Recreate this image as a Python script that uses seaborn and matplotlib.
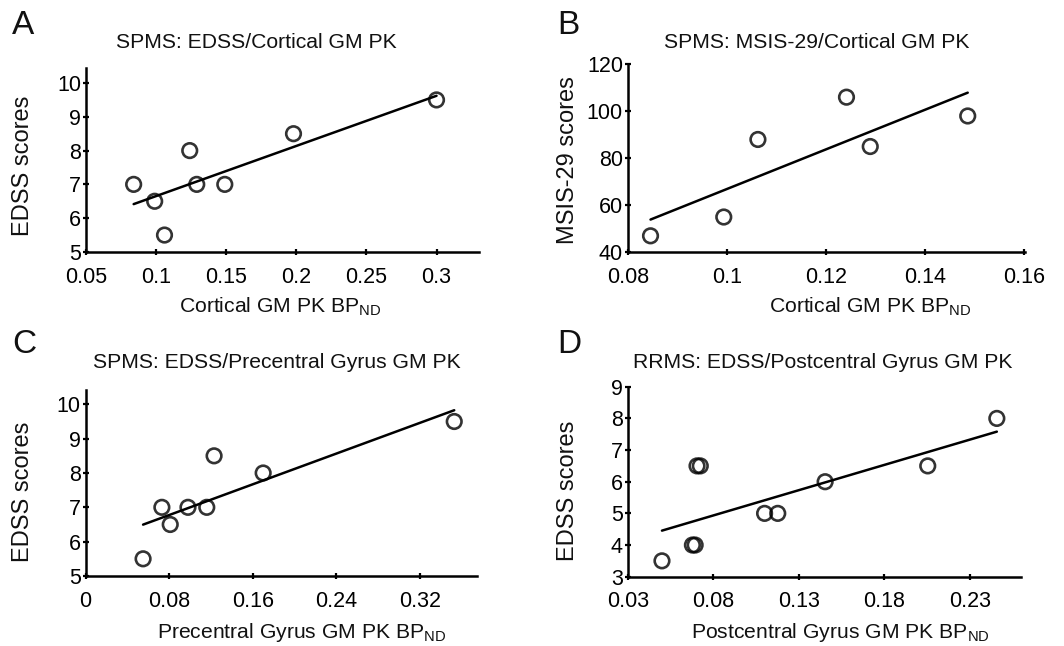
import numpy as np
import pandas as pd
import matplotlib
matplotlib.use("Agg")
import matplotlib.pyplot as plt
import seaborn as sns

# Panel A: SPMS EDSS vs cortical GM PK
a_x = [0.084, 0.099, 0.106, 0.124, 0.129, 0.149, 0.198, 0.300]
a_y = [7.0, 6.5, 5.5, 8.0, 7.0, 7.0, 8.5, 9.5]

# Panel B: SPMS MSIS-29 vs cortical GM PK
b_x = [0.0846, 0.0994, 0.1063, 0.1242, 0.1290, 0.1487]
b_y = [47, 55, 88, 106, 85, 98]

# Panel C: SPMS EDSS vs precentral gyrus GM PK
c_x = [0.055, 0.073, 0.081, 0.098, 0.116, 0.123, 0.170, 0.353]
c_y = [5.5, 7.0, 6.5, 7.0, 7.0, 8.5, 8.0, 9.5]

# Panel D: RRMS EDSS vs postcentral gyrus GM PK
d_x = [0.050, 0.0678, 0.0694, 0.0705, 0.0724, 0.110, 0.1177, 0.1454, 0.2054, 0.2458]
d_y = [3.5, 4.0, 4.0, 6.5, 6.5, 5.0, 5.0, 6.0, 6.5, 8.0]

sns.set_theme(style="white")
plt.rcParams["font.family"] = ["Liberation Sans", "DejaVu Sans"]
plt.rcParams["mathtext.default"] = "regular"

fig = plt.figure(figsize=(10.64, 6.46), dpi=100)

panels = [
    dict(x=a_x, y=a_y, rect=[0.0808, 0.610, 0.369, 0.285],
         xlim=(0.05, 0.33), ylim=(5, 10.45),
         xticks=[0.05, 0.1, 0.15, 0.2, 0.25, 0.3],
         xtl=["0.05", "0.1", "0.15", "0.2", "0.25", "0.3"],
         yticks=[5, 6, 7, 8, 9, 10],
         title="SPMS: EDSS/Cortical GM PK", letter="A",
         xlabel="Cortical GM PK BP$_{ND}$", ylabel="EDSS scores",
         title_xy=(256, 42), letter_xy=(12, 25),
         xl_xy=(280, 307), yl_xy=(23, 166)),
    dict(x=b_x, y=b_y, rect=[0.590, 0.6095, 0.373, 0.291],
         xlim=(0.08, 0.1602), ylim=(40, 120),
         xticks=[0.08, 0.1, 0.12, 0.14, 0.16],
         xtl=["0.08", "0.1", "0.12", "0.14", "0.16"],
         yticks=[40, 60, 80, 100, 120],
         title="SPMS: MSIS-29/Cortical GM PK", letter="B",
         xlabel="Cortical GM PK BP$_{ND}$", ylabel="MSIS-29 scores",
         title_xy=(817, 42), letter_xy=(557, 25),
         xl_xy=(870, 307), yl_xy=(568, 160)),
    dict(x=c_x, y=c_y, rect=[0.0805, 0.1084, 0.368, 0.288],
         xlim=(0, 0.375), ylim=(5, 10.42),
         xticks=[0, 0.08, 0.16, 0.24, 0.32],
         xtl=["0", "0.08", "0.16", "0.24", "0.32"],
         yticks=[5, 6, 7, 8, 9, 10],
         title="SPMS: EDSS/Precentral Gyrus GM PK", letter="C",
         xlabel="Precentral Gyrus GM PK BP$_{ND}$", ylabel="EDSS scores",
         title_xy=(277, 362), letter_xy=(12, 345),
         xl_xy=(302, 632), yl_xy=(23, 492)),
    dict(x=d_x, y=d_y, rect=[0.590, 0.1073, 0.3697, 0.294],
         xlim=(0.03, 0.26), ylim=(3, 9),
         xticks=[0.03, 0.08, 0.13, 0.18, 0.23],
         xtl=["0.03", "0.08", "0.13", "0.18", "0.23"],
         yticks=[3, 4, 5, 6, 7, 8, 9],
         title="RRMS: EDSS/Postcentral Gyrus GM PK", letter="D",
         xlabel="Postcentral Gyrus GM PK BP$_{ND}$", ylabel="EDSS scores",
         title_xy=(823, 362), letter_xy=(557, 345),
         xl_xy=(840, 633), yl_xy=(568, 491)),
]

W, H = 1064, 646
for p in panels:
    ax = fig.add_axes(p["rect"])
    df = pd.DataFrame({"x": p["x"], "y": p["y"]})
    sns.regplot(data=df, x="x", y="y", ax=ax, ci=None, truncate=True,
                scatter_kws=dict(s=110, facecolors="none", edgecolors="black",
                                 linewidths=1.9, zorder=3),
                line_kws=dict(color="black", linewidth=1.8))
    ax.set_xlim(p["xlim"])
    ax.set_ylim(p["ylim"])
    ax.set_xticks(p["xticks"])
    ax.set_xticklabels(p["xtl"])
    ax.set_yticks(p["yticks"])
    ax.set_xlabel("")
    ax.set_ylabel("")
    for s in ["top", "right"]:
        ax.spines[s].set_visible(False)
    for s in ["left", "bottom"]:
        ax.spines[s].set_color("black")
        ax.spines[s].set_linewidth(1.8)
    ax.tick_params(direction="inout", length=5, width=1.6, colors="black",
                   labelsize=15.5, pad=1, left=True, bottom=True)
    ax.tick_params(axis="x", pad=8)
    for c in ax.collections:
        c.set_clip_on(False)

    fig.text(p["title_xy"][0] / W, 1 - p["title_xy"][1] / H, p["title"],
             ha="center", va="center", fontsize=15.2, color="#111111")
    fig.text(p["letter_xy"][0] / W, 1 - p["letter_xy"][1] / H, p["letter"],
             ha="left", va="center", fontsize=24, color="#111111")
    fig.text(p["xl_xy"][0] / W, 1 - p["xl_xy"][1] / H, p["xlabel"],
             ha="center", va="center", fontsize=15.2, color="#111111")
    fig.text(p["yl_xy"][0] / W, 1 - p["yl_xy"][1] / H, p["ylabel"],
             ha="center", va="center", rotation=90, fontsize=17, color="#111111")

fig.savefig("out.png", dpi=100, facecolor="white")
